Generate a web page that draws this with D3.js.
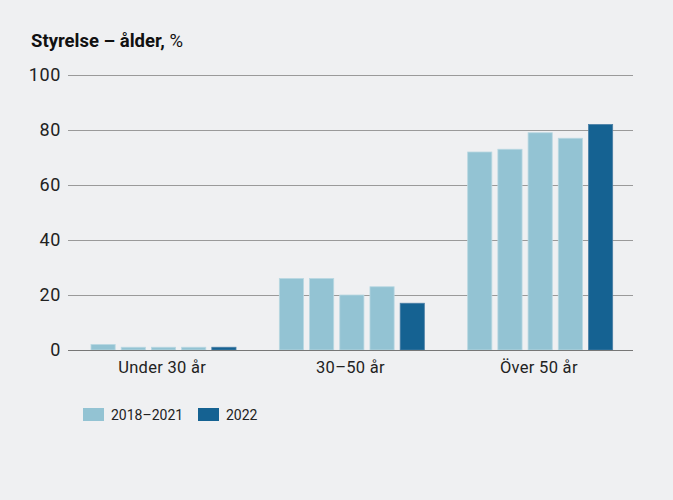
<!DOCTYPE html>
<html><head><meta charset="utf-8">
<script src="https://cdn.jsdelivr.net/npm/d3@7"></script>
<style>
html,body{margin:0;padding:0;background:#eff0f2;}
svg{display:block;font-family:Roboto,"Noto Sans",sans-serif;}
</style></head>
<body><svg id="c" width="673" height="500"></svg>
<script>
const categories = ["Under 30 år", "30–50 år", "Över 50 år"];
const seriesNames = ["2018", "2019", "2020", "2021", "2022"];
const values2018 = [2, 26, 72];
const values2019 = [1, 26, 73];
const values2020 = [1, 20, 79];
const values2021 = [1, 23, 77];
const values2022 = [1, 17, 82];
const yTicks = [0, 20, 40, 60, 80, 100];
const legendLabels = ["2018–2021", "2022"];
const title = "Styrelse – ålder,";
const titleUnit = " %";

const allSeries = [values2018, values2019, values2020, values2021, values2022];
const light = "#93c3d3", dark = "#156292";
const colorOf = i => i === 4 ? dark : light;

const svg = d3.select("#c");
const x0 = d3.scaleBand().domain(categories).range([68, 633]).padding(0);
const x1 = d3.scaleBand().domain(seriesNames).range([23, 168]).paddingInner(0.2).paddingOuter(0);
const y = d3.scaleLinear().domain([0, 100]).range([350, 75]);

// title
const t = svg.append("text").attr("x", 31).attr("y", 47).attr("font-size", 18.5).attr("fill", "#111");
t.append("tspan").attr("font-weight", "bold").text(title);
t.append("tspan").text(titleUnit);

// grid + y axis
const yAxis = d3.axisLeft(y).tickValues(yTicks).tickSize(0).tickPadding(7);
const ga = svg.append("g").attr("transform", "translate(68,0)").call(yAxis);
ga.select(".domain").remove();
ga.selectAll("text").attr("font-size", 18).attr("letter-spacing", 0.6).attr("fill", "#222").attr("font-family", "Roboto,sans-serif");
svg.append("g").selectAll("line").data(yTicks).join("line")
  .attr("x1", 68).attr("x2", 633)
  .attr("y1", d => Math.round(y(d)) + 0.5).attr("y2", d => Math.round(y(d)) + 0.5)
  .attr("stroke", d => d === 0 ? "#777" : "#9a9a9a").attr("stroke-width", 1);

// bars
const groups = svg.append("g").selectAll("g").data(categories).join("g")
  .attr("transform", c => `translate(${x0(c)},0)`);
groups.selectAll("rect").data((c, ci) => allSeries.map((s, si) => ({name: seriesNames[si], v: s[ci], si})))
  .join("rect")
  .attr("x", d => x1(d.name))
  .attr("width", x1.bandwidth())
  .attr("y", d => y(d.v))
  .attr("height", d => y(0) - y(d.v))
  .attr("fill", d => colorOf(d.si))
  .attr("stroke", d => d.si === 4 ? "#4a7fa6" : "#b9d8e2")
  .attr("stroke-width", 0.8);

// redraw baseline on top
svg.append("line").attr("x1", 68).attr("x2", 633).attr("y1", 350.5).attr("y2", 350.5).attr("stroke", "#777");

// x axis labels
const xAxis = d3.axisBottom(x0).tickSize(0).tickPadding(10);
const gx = svg.append("g").attr("transform", "translate(0,351)").call(xAxis);
gx.select(".domain").remove();
gx.selectAll("text").attr("font-size", 16.5).attr("letter-spacing", 0.3).attr("fill", "#222").attr("font-family", "Roboto,sans-serif");

// legend
const leg = svg.append("g").selectAll("g").data(legendLabels).join("g")
  .attr("transform", (d, i) => `translate(${i === 0 ? 83 : 198},408)`);
leg.append("rect").attr("width", 21).attr("height", 13).attr("fill", (d, i) => i === 0 ? light : dark);
leg.append("text").attr("x", 28).attr("y", 11.5).attr("font-size", 14).attr("fill", "#222").text(d => d);
</script></body></html>
